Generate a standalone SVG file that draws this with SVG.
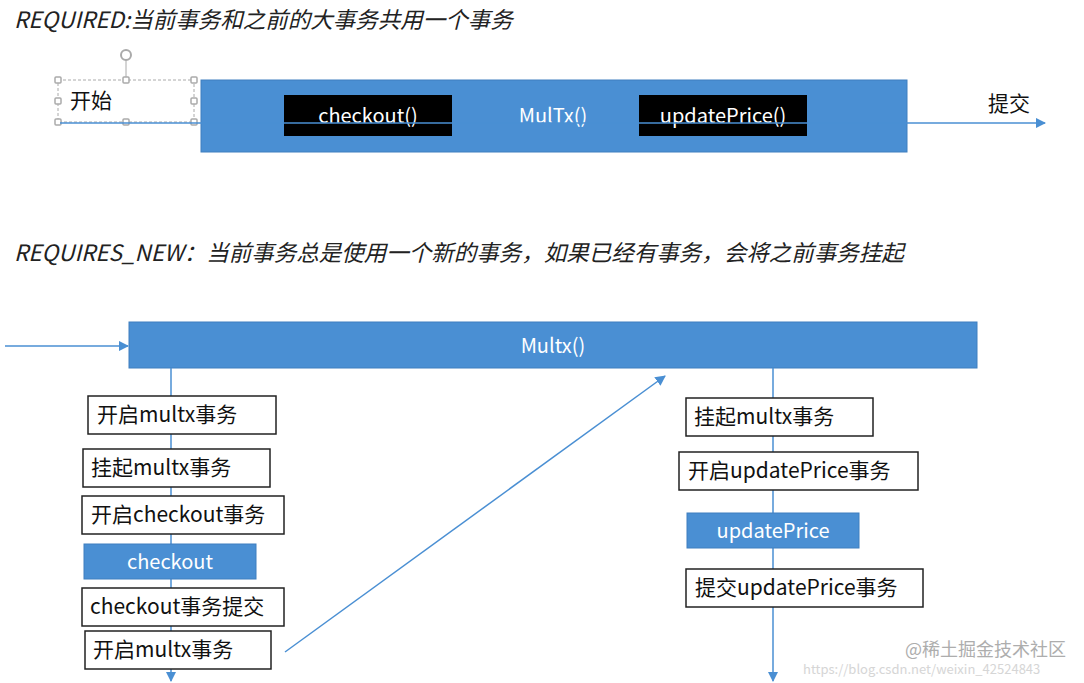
<svg xmlns="http://www.w3.org/2000/svg" width="1084" height="683" viewBox="0 0 1084 683">
<style>
text{font-family:"Noto Sans CJK SC","Liberation Sans",sans-serif}
.t{font-size:22.5px;font-style:italic;fill:#222}
.w{fill:#fff;stroke:#222;stroke-width:1.5}
.b{fill:#4a8fd3;stroke:#3f7fbf;stroke-width:1}
.l{font-size:21px;fill:#111}
.c{font-size:20px;fill:#fff;text-anchor:middle}
.ln{stroke:#4a8fd3;stroke-width:1.5;fill:none}
.h{fill:#fff;stroke:#aaa;stroke-width:1.5}
</style>
<defs><marker id="a" viewBox="0 0 10 10" refX="9" refY="5" markerWidth="7" markerHeight="7" orient="auto"><path d="M0,0L10,5L0,10z" fill="#4a8fd3"/></marker></defs>
<rect width="1084" height="683" fill="#fff"/>
<text class="t" x="14" y="28">REQUIRED:当前事务和之前的大事务共用一个事务</text>
<text class="t" x="14" y="261">REQUIRES_NEW：当前事务总是使用一个新的事务，如果已经有事务，会将之前事务挂起</text>
<g id="txtop"><rect class="b" x="201" y="80" width="706" height="72"/><text class="c" x="553" y="123">MulTx()</text></g>
<g id="checkout1"><rect x="284" y="95" width="168" height="41" fill="#000"/><text class="c" x="368" y="123">checkout()</text></g>
<g id="update1"><rect x="639" y="95" width="168" height="41" fill="#000"/><text class="c" x="723" y="123">updatePrice()</text></g>
<g id="start"><rect x="58" y="80" width="136" height="42" fill="none" stroke="#aaa" stroke-dasharray="3,2"/>
<line x1="126" y1="60" x2="126" y2="80" stroke="#aaa"/><circle cx="126" cy="55" r="5" fill="none" stroke="#aaa" stroke-width="2"/>
<rect class="h" x="55" y="77" width="6" height="6" rx="1"/><rect class="h" x="123" y="77" width="6" height="6" rx="1"/><rect class="h" x="191" y="77" width="6" height="6" rx="1"/>
<rect class="h" x="55" y="98" width="6" height="6" rx="1"/><rect class="h" x="191" y="98" width="6" height="6" rx="1"/>
<rect class="h" x="55" y="119" width="6" height="6" rx="1"/><rect class="h" x="123" y="119" width="6" height="6" rx="1"/><rect class="h" x="191" y="119" width="6" height="6" rx="1"/>
<text class="l" x="70" y="108">开始</text></g>
<text class="l" x="988" y="111">提交</text>
<g id="multx"><rect class="b" x="129" y="322" width="848" height="46"/><text class="c" x="553" y="353">Multx()</text></g>
<g id="connectors">
<line class="ln" x1="60" y1="123" x2="1045" y2="123" marker-end="url(#a)"/>
<line class="ln" x1="5" y1="346" x2="128" y2="346" marker-end="url(#a)"/>
<line class="ln" x1="171" y1="368" x2="171" y2="681" marker-end="url(#a)"/>
<line class="ln" x1="773" y1="368" x2="773" y2="681" marker-end="url(#a)"/>
<line class="ln" x1="285" y1="652" x2="665" y2="376" marker-end="url(#a)"/>
</g>
<g id="n1"><rect class="w" x="88" y="396" width="188" height="38"/><text class="l" x="97" y="422">开启multx事务</text></g>
<g id="n2"><rect class="w" x="83" y="449" width="187" height="38"/><text class="l" x="91" y="475">挂起multx事务</text></g>
<g id="n3"><rect class="w" x="82" y="496" width="202" height="38"/><text class="l" x="91" y="522">开启checkout事务</text></g>
<g id="n4"><rect class="b" x="84" y="544" width="172" height="35"/><text class="c" x="170" y="569">checkout</text></g>
<g id="n5"><rect class="w" x="82" y="588" width="202" height="38"/><text class="l" x="90" y="614">checkout事务提交</text></g>
<g id="n6"><rect class="w" x="85" y="631" width="186" height="38"/><text class="l" x="93" y="657">开启multx事务</text></g>
<g id="r1"><rect class="w" x="686" y="398" width="187" height="38"/><text class="l" x="694" y="424">挂起multx事务</text></g>
<g id="r2"><rect class="w" x="679" y="452" width="239" height="38"/><text class="l" x="688" y="478">开启updatePrice事务</text></g>
<g id="r3"><rect class="b" x="687" y="513" width="172" height="35"/><text class="c" x="773" y="538">updatePrice</text></g>
<g id="r4"><rect class="w" x="686" y="569" width="237" height="38"/><text class="l" x="695" y="595">提交updatePrice事务</text></g>
<text x="905" y="656" font-size="18" fill="#999" opacity="0.8">@稀土掘金技术社区</text>
<text x="803" y="674" font-size="13" fill="#ccc" opacity="0.8">https://blog.csdn.net/weixin_42524843</text>
</svg>
